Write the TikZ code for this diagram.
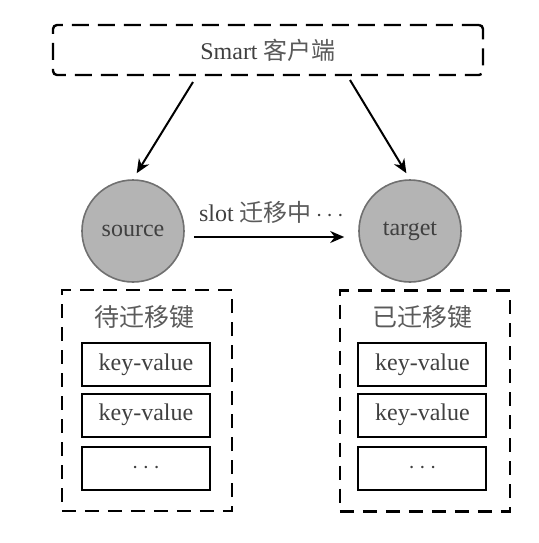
\documentclass[tikz,border=0pt]{standalone}
\usepackage{fontspec}
\usepackage{tikz}
\usetikzlibrary{arrows.meta}
\setmainfont{Liberation Serif}
\newfontfamily\cjk{Noto Sans CJK SC}
\definecolor{txtgray}{HTML}{404040}
\definecolor{cjkgray}{HTML}{5A5A5A}
\definecolor{nodefill}{HTML}{B4B4B4}
\definecolor{nodeline}{HTML}{707070}

\begin{document}
\begin{tikzpicture}
            [x=.5pt,y=-.5pt,font=\fontsize{12}{14}\selectfont,text=txtgray,
             client/.style={draw,dash pattern=on 8.5pt off 4.5pt,line width=1.2pt,rounded corners=2pt,minimum width=215pt,minimum height=25pt},
             server/.style={circle,draw=nodeline,fill=nodefill,line width=.8pt,minimum size=51pt,inner sep=0pt},
             group/.style={draw,dash pattern=on 7pt off 4.5pt,line width=1.2pt,minimum width=85pt,minimum height=110.5pt},
             title/.style={font=\cjk\fontsize{12.5}{14}\selectfont,text=cjkgray},
             kv/.style={draw,line width=1pt,minimum width=64pt,minimum height=21.5pt},
             link/.style={-{Stealth[length=7pt,width=6pt]},line width=1pt}]
            \useasboundingbox (0,0) rectangle (539,543);
            \node[client] (client) at (268,50) {Smart {\cjk\color{cjkgray} 客户端}};
            \node[server] (source) at (133,231) {source};
            \node[server] (target) at (410,231) {target};
            \coordinate (c1) at (193,82);
            \coordinate (c2) at (350,80);
            % the client talks to both
            \draw[link,shorten >=3.5pt] (c1) -- (source.north);
            \draw[link,shorten >=3.5pt] (c2) -- (target.north);
            % migration
            \draw[link,shorten <=4.5pt,shorten >=7pt] ([yshift=-3pt]source.east) -- node[above=3pt] {slot {\cjk\color{cjkgray} 迁移中}\,$\cdots$} ([yshift=-3pt]target.west);
            % keys on source
            \node[group] (left) at (147,400.5) {};
            \node[title] (lefttitle) at (145,317) {待迁移键};
            \node[kv] (l1) at (146,364.5) {key-value};
            \node[kv] (l2) at (146,415) {key-value};
            \node[kv] (l3) at (146,468) {$\cdots$};
            % keys on target
            \node[group] (right) at (425,401) {};
            \node[title] (righttitle) at (423,317) {已迁移键};
            \node[kv] (r1) at (422.5,364.5) {key-value};
            \node[kv] (r2) at (422.5,415) {key-value};
            \node[kv] (r3) at (422.5,468) {$\cdots$};
        \end{tikzpicture}
\end{document}
